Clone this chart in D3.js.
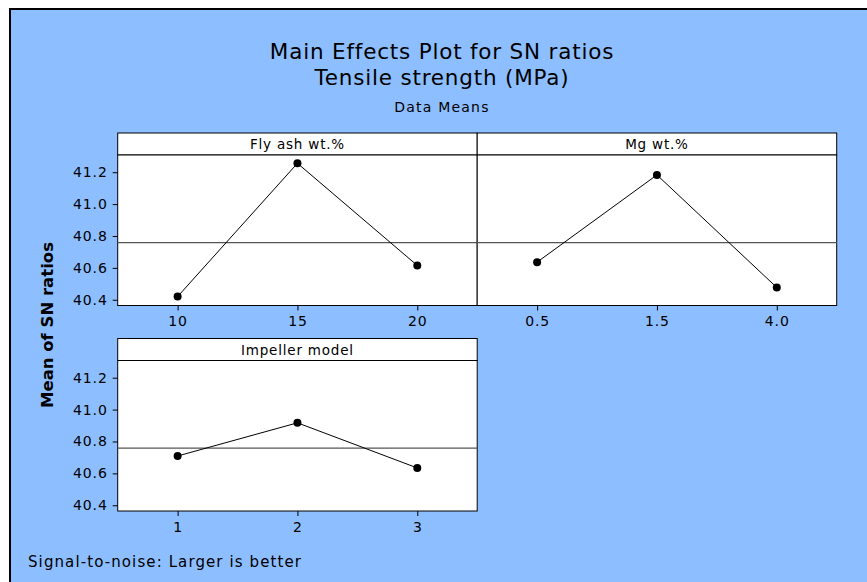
<!DOCTYPE html>
<html>
<head>
<meta charset="utf-8">
<script src="https://cdn.jsdelivr.net/npm/d3@7"></script>
<style>
  body { margin: 0; background: #fff; }
  svg { display: block; }
  .tick text { font-family: "DejaVu Sans", Verdana, sans-serif; font-size: 14px; letter-spacing: 0.9px; fill: #000; }
</style>
</head>
<body>
<svg class="js-chart" width="867" height="582"></svg>
<script>
var factors = ['Fly ash wt.%', 'Mg wt.%', 'Impeller model'],
    levels = [['10', '15', '20'], ['0.5', '1.5', '4.0'], ['1', '2', '3']],
    snMeans = [[40.42, 41.256, 40.615], [40.636, 41.183, 40.477], [40.709, 40.917, 40.634]],
    grandMean = 40.759,
    yTicks = [40.4, 40.6, 40.8, 41.0, 41.2];

var svg = d3.select('.js-chart'),
    PANEL_W = 359.5,
    PLOT_H = 150.5,
    STRIP_H = 22,
    LEFT = 117.7,
    ROW_TOP = [155, 360.5],
    FONT = '"DejaVu Sans", Verdana, sans-serif';

// outer blue frame
svg.append('rect')
    .attr('x', 10).attr('y', 9)
    .attr('width', 880).attr('height', 600)
    .attr('fill', '#8dbeff')
    .attr('stroke', '#000')
    .attr('stroke-width', 2);

// titles
var titles = [
  { t: 'Main Effects Plot for SN ratios', y: 58.5, size: 21.5, ls: 0.8 },
  { t: 'Tensile strength (MPa)', y: 85, size: 21.5, ls: 0.8 },
  { t: 'Data Means', y: 111.5, size: 14, ls: 1.2 }
];
svg.selectAll('.title')
    .data(titles)
    .enter()
    .append('text')
    .attr('class', 'title')
    .attr('x', 442)
    .attr('y', function(d) { return d.y; })
    .attr('text-anchor', 'middle')
    .style('font-family', FONT)
    .style('font-size', function(d) { return d.size + 'px'; })
    .style('letter-spacing', function(d) { return d.ls + 'px'; })
    .text(function(d) { return d.t; });

var y = d3.scaleLinear().domain([40.364, 41.308]).range([PLOT_H, 0]);

factors.forEach(function(name, i) {
  var col = i % 2,
      row = Math.floor(i / 2),
      g = svg.append('g')
        .attr('transform', 'translate(' + (LEFT + col * PANEL_W) + ',' + ROW_TOP[row] + ')');

  var x = d3.scalePoint().domain(levels[i]).range([0, PANEL_W]).padding(0.5);

  // strip
  g.append('rect')
      .attr('x', 0).attr('y', -STRIP_H)
      .attr('width', PANEL_W).attr('height', STRIP_H)
      .attr('fill', '#fff').attr('stroke', '#000');
  g.append('text')
      .attr('x', PANEL_W / 2).attr('y', -6)
      .attr('text-anchor', 'middle')
      .style('font-family', FONT)
      .style('font-size', '13.5px')
      .style('letter-spacing', '0.8px')
      .text(name);

  // plot area
  g.append('rect')
      .attr('width', PANEL_W).attr('height', PLOT_H)
      .attr('fill', '#fff').attr('stroke', '#000');

  // grand mean reference line
  g.append('line')
      .attr('x1', 0).attr('x2', PANEL_W)
      .attr('y1', y(grandMean)).attr('y2', y(grandMean))
      .attr('stroke', '#555').attr('stroke-width', 1.2);

  var pts = levels[i].map(function(l, j) { return { l: l, v: snMeans[i][j] }; });

  g.append('path')
      .datum(pts)
      .attr('fill', 'none')
      .attr('stroke', '#000')
      .attr('stroke-width', 1)
      .attr('d', d3.line()
        .x(function(d) { return x(d.l); })
        .y(function(d) { return y(d.v); }));

  g.selectAll('circle')
      .data(pts)
      .enter()
      .append('circle')
      .attr('cx', function(d) { return x(d.l); })
      .attr('cy', function(d) { return y(d.v); })
      .attr('r', 4)
      .attr('fill', '#000');

  // x axis
  var xAxis = g.append('g')
      .attr('transform', 'translate(0,' + PLOT_H + ')')
      .call(d3.axisBottom(x).tickSize(5).tickPadding(6));
  xAxis.select('.domain').remove();

  // y axis on left column
  if (col === 0) {
    var yAxis = g.append('g')
        .call(d3.axisLeft(y).tickValues(yTicks).tickFormat(d3.format('.1f')).tickSize(5).tickPadding(5));
    yAxis.select('.domain').remove();
  }
});

// y label
svg.append('text')
    .attr('transform', 'translate(53,325) rotate(-90)')
    .attr('text-anchor', 'middle')
    .style('font-family', FONT)
    .style('font-size', '16.5px')
    .style('font-weight', 'bold')
    .text('Mean of SN ratios');

// footer
svg.append('text')
    .attr('x', 28).attr('y', 567)
    .style('font-family', FONT)
    .style('font-size', '15px')
    .style('letter-spacing', '1.1px')
    .text('Signal-to-noise: Larger is better');
</script>
</body>
</html>
